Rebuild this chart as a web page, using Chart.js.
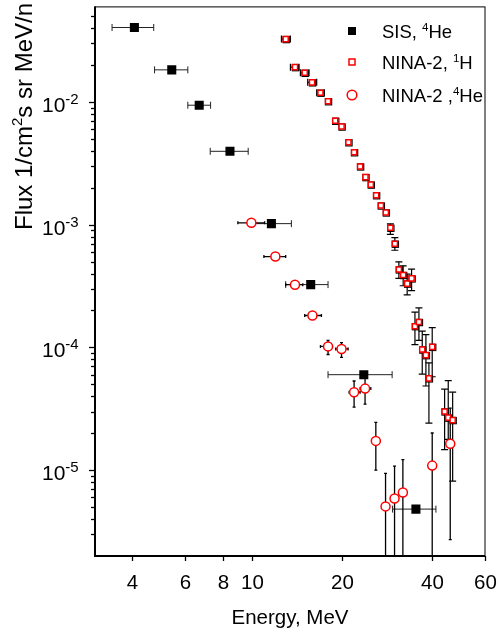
<!DOCTYPE html>
<html>
<head>
<meta charset="utf-8">
<script src="https://cdn.jsdelivr.net/npm/chart.js@4"></script>
<style>
html, body { margin: 0; padding: 0; background: #fff; }
</style>
</head>
<body>
<canvas id="fluxChart" width="498" height="636"></canvas>
<script>
const FONT = "'Liberation Sans', Arial, sans-serif";

// SIS, 4He
const sisEnergy = [4.06, 5.41, 6.68, 8.46, 11.63, 15.73, 23.65, 35.29];
const sisFlux = [0.0404, 0.01825, 0.0094, 0.00396, 1.02e-3, 3.25e-4, 6.0e-5, 4.82e-6];
const sisEnergyLo = [3.42, 4.74, 6.12, 7.27, 9.92, 12.98, 17.97, 29.5];
const sisEnergyHi = [4.71, 6.12, 7.29, 9.73, 13.56, 17.97, 29.4, 41.16];

// NINA-2, 1H
const hEnergy = [12.98, 13.94, 15.02, 15.89, 16.95, 17.97, 18.99, 19.94, 21.02, 21.95, 22.99, 23.96, 24.96, 26.0, 26.96, 28.02,
  29.0, 30.02, 30.96, 32.0, 33.0, 34.14, 35.03, 36.12, 37.05, 38.11, 39.0, 40.0, 44.0, 45.24, 46.8];
const hFlux = [0.0325, 0.0192, 0.01726, 0.01443, 0.01189, 0.01013, 0.00702, 0.0063, 0.00469, 0.00389, 0.00298, 0.00244, 0.00212, 0.001736, 0.001432, 0.001257,
  9.44e-4, 7.0e-4, 4.32e-4, 3.89e-4, 3.31e-4, 3.65e-4, 1.49e-4, 1.61e-4, 9.62e-5, 8.65e-5, 5.6e-5, 1.01e-4, 3.01e-5, 2.68e-5, 2.56e-5];
const hEnergyLo = [12.56, 13.46, 14.53, 15.37, 16.47];
const hEnergyHi = [13.46, 14.38, 15.53, 16.47, 17.46];
const hFluxHi = [null, null, null, null, null, null, null, null, null, null, null, null, null, null, null, null,
  1.017e-3, 7.83e-4, 4.98e-4, 4.62e-4, 3.96e-4, 4.35e-4, 1.94e-4, 2.1e-4, 1.36e-4, 1.272e-4, 7.5e-5, 1.45e-4, 4.57e-5, 5.36e-5, 4.32e-5];
const hFluxLo = [null, null, null, null, null, null, null, null, null, null, null, null, null, null, null, null,
  8.35e-4, 6.19e-4, 3.65e-4, 3.18e-4, 2.68e-4, 2.9e-4, 1.055e-4, 1.143e-4, 6.07e-5, 4.85e-5, 2.42e-5, 5.77e-5, 1.47e-5, 1.78e-5, 8.16e-6];

// NINA-2, 4He
const heEnergy = [9.97, 11.99, 13.94, 15.94, 17.97, 19.93, 21.95, 23.88, 25.94, 27.95, 29.95, 31.93, 40.0, 45.94];
const heFlux = [1.036e-3, 5.5e-4, 3.245e-4, 1.82e-4, 1.02e-4, 9.72e-5, 4.32e-5, 4.62e-5, 1.733e-5, 5.07e-6, 5.88e-6, 6.58e-6, 1.09e-5, 1.64e-5];
const heEnergyLo = [8.99, 10.98, 12.98, 15.02, 16.95, 19.06, 21.13, 22.99];
const heEnergyHi = [11.04, 12.98, 14.8, 17.08, 18.59, 20.96, 22.99, 24.96];
const heFluxHi = [null, null, null, null, 1.143e-4, 1.095e-4, 5.33e-5, 5.63e-5, 2.45e-5, 9.42e-6, 1.08e-5, 1.22e-5, 2.01e-5, 3.2e-5];
const heFluxLo = [null, null, null, null, 8.76e-5, 8.29e-5, 3.27e-5, 3.45e-5, 1.0e-5, 1e-6, 1e-6, 1e-6, 1e-6, 2.72e-6];

// axes
const xTicks = [4, 6, 8, 10, 20, 40, 60];
const yTicks = [1e-5, 1e-4, 1e-3, 1e-2];
const yTickExp = ["-5", "-4", "-3", "-2"];
const yDecades = [1e-6, 1e-5, 1e-4, 1e-3, 1e-2];
const yMantissa = [2, 3, 4, 5, 6, 7, 8, 9];

function points(xs, ys) {
  return xs.map(function (v, i) { return { x: v, y: ys[i] }; });
}

function line(ctx, x1, y1, x2, y2) {
  ctx.beginPath();
  ctx.moveTo(x1, y1);
  ctx.lineTo(x2, y2);
  ctx.stroke();
}

// draws text with a raised part: parts = [[text, size, rise], ...]
function richText(ctx, parts, x, y) {
  let cx = x;
  parts.forEach(function (p) {
    ctx.font = p[1] + "px " + FONT;
    ctx.fillText(p[0], cx, y - p[2]);
    cx += ctx.measureText(p[0]).width;
  });
}

const errorBars = {
  id: "errorBars",
  beforeDatasetsDraw(chart) {
    const { ctx, chartArea: a, scales: { x, y } } = chart;
    ctx.save();
    ctx.beginPath();
    ctx.rect(a.left, a.top, a.right - a.left, a.bottom - a.top);
    ctx.clip();
    chart.data.datasets.forEach(function (ds) {
      const e = ds.errors;
      ctx.strokeStyle = e.color;
      ctx.lineWidth = e.width;
      ds.data.forEach(function (p, i) {
        const px = x.getPixelForValue(p.x);
        const py = y.getPixelForValue(p.y);
        if (e.xLo[i] != null) {
          const l = x.getPixelForValue(e.xLo[i]);
          const r = x.getPixelForValue(e.xHi[i]);
          line(ctx, l, py, r, py);
          line(ctx, l, py - e.cap, l, py + e.cap);
          line(ctx, r, py - e.cap, r, py + e.cap);
        }
        if (e.yLo[i] != null) {
          const t = y.getPixelForValue(e.yHi[i]);
          const b = y.getPixelForValue(e.yLo[i]);
          line(ctx, px, t, px, b);
          line(ctx, px - e.cap, t, px + e.cap, t);
          line(ctx, px - e.cap, b, px + e.cap, b);
        }
        // dark outline peeking out behind the red square
        if (e.shadow) {
          ctx.save();
          ctx.lineWidth = 1.2;
          ctx.strokeStyle = "#000";
          ctx.strokeRect(px - 2.6, py - 2.6, 6.2, 6.2);
          ctx.restore();
        }
      });
    });
    ctx.restore();
  }
};

const frame = {
  id: "frame",
  afterDraw(chart) {
    const { ctx, chartArea: a, scales: { x, y } } = chart;
    ctx.save();
    ctx.strokeStyle = "#000";
    ctx.lineWidth = 1;
    ctx.strokeRect(a.left, a.top + 0.5, a.right - a.left, a.bottom - a.top);
    ctx.lineWidth = 2;
    line(ctx, a.left, a.top, a.left, a.bottom + 1);
    line(ctx, a.left - 1, a.bottom, a.right, a.bottom);

    // y ticks
    ctx.lineWidth = 1.3;
    yDecades.forEach(function (d) {
      yMantissa.forEach(function (m) {
        const v = d * m;
        if (v <= y.min || v >= y.max) return;
        const py = Math.round(y.getPixelForValue(v)) + 0.5;
        line(ctx, a.left - 4, py, a.left, py);
      });
    });
    ctx.fillStyle = "#000";
    ctx.textBaseline = "alphabetic";
    yTicks.forEach(function (v, i) {
      const py = Math.round(y.getPixelForValue(v)) + 0.5;
      line(ctx, a.left - 6, py, a.left, py);
      ctx.textAlign = "left";
      richText(ctx, [["10", 21, 0], [yTickExp[i], 15, 8]], 42, py + 9);
    });

    // x ticks
    ctx.textAlign = "center";
    ctx.font = "20.5px " + FONT;
    xTicks.forEach(function (v) {
      const px = Math.round(x.getPixelForValue(v)) + 0.5;
      line(ctx, px, a.bottom, px, a.bottom + 5);
      ctx.fillText(String(v), px, 589);
    });
    ctx.fillText("Energy, MeV", (a.left + a.right) / 2, 624);

    // y title
    ctx.save();
    ctx.translate(32, 230);
    ctx.rotate(-Math.PI / 2);
    ctx.textAlign = "left";
    richText(ctx, [["Flux 1/cm", 24, 0], ["2", 15, 10], ["s sr MeV/n", 24, 0]], 0, 0);
    ctx.restore();

    // legend
    ctx.textAlign = "left";
    ctx.fillStyle = "#000";
    ctx.fillRect(348, 27, 8, 8);
    richText(ctx, [["SIS, ", 18.5, 0], ["4", 11.5, 7], ["He", 18.5, 0]], 382, 37.5);
    ctx.strokeStyle = "#ff0000";
    ctx.lineWidth = 1.5;
    ctx.strokeRect(349, 59, 6, 6);
    ctx.fillStyle = "#000";
    richText(ctx, [["NINA-2, ", 18.5, 0], ["1", 11.5, 7], ["H", 18.5, 0]], 382, 68.5);
    ctx.beginPath();
    ctx.arc(352, 95, 4.8, 0, Math.PI * 2);
    ctx.stroke();
    richText(ctx, [["NINA-2 ,", 18.5, 0], ["4", 11.5, 7], ["He", 18.5, 0]], 382, 101.5);
    ctx.restore();
  }
};

new Chart(document.getElementById("fluxChart"), {
  type: "scatter",
  data: {
    datasets: [
      {
        label: "SIS, 4He",
        data: points(sisEnergy, sisFlux),
        pointStyle: "rect",
        pointRadius: 6.4,
        backgroundColor: "#000",
        borderColor: "#000",
        borderWidth: 0,
        errors: { xLo: sisEnergyLo, xHi: sisEnergyHi, yLo: [], yHi: [], cap: 3.5, color: "#222", width: 1 }
      },
      {
        label: "NINA-2, 1H",
        data: points(hEnergy, hFlux),
        pointStyle: "rect",
        pointRadius: 3.6,
        backgroundColor: "#fff",
        borderColor: "#ff0000",
        borderWidth: 1.5,
        errors: { xLo: hEnergyLo, xHi: hEnergyHi, yLo: hFluxLo, yHi: hFluxHi, cap: 3.5, color: "#000", width: 1.2, shadow: true }
      },
      {
        label: "NINA-2 ,4He",
        data: points(heEnergy, heFlux),
        pointStyle: "circle",
        pointRadius: 4.5,
        backgroundColor: "#fff",
        borderColor: "#ff0000",
        borderWidth: 1.5,
        errors: { xLo: heEnergyLo, xHi: heEnergyHi, yLo: heFluxLo, yHi: heFluxHi, cap: 1.5, color: "#000", width: 1.3 }
      }
    ]
  },
  options: {
    responsive: false,
    animation: false,
    layout: { padding: { left: 0, right: 13, top: 4, bottom: 0 } },
    plugins: { legend: { display: false }, tooltip: { enabled: false } },
    scales: {
      x: {
        type: "logarithmic",
        min: 3,
        max: 60,
        ticks: { display: false },
        grid: { display: false },
        border: { display: false },
        afterFit: function (s) { s.height = 80; }
      },
      y: {
        type: "logarithmic",
        min: 2e-6,
        max: 0.06,
        ticks: { display: false },
        grid: { display: false },
        border: { display: false },
        afterFit: function (s) { s.width = 95; }
      }
    }
  },
  plugins: [errorBars, frame]
});
</script>
</body>
</html>
